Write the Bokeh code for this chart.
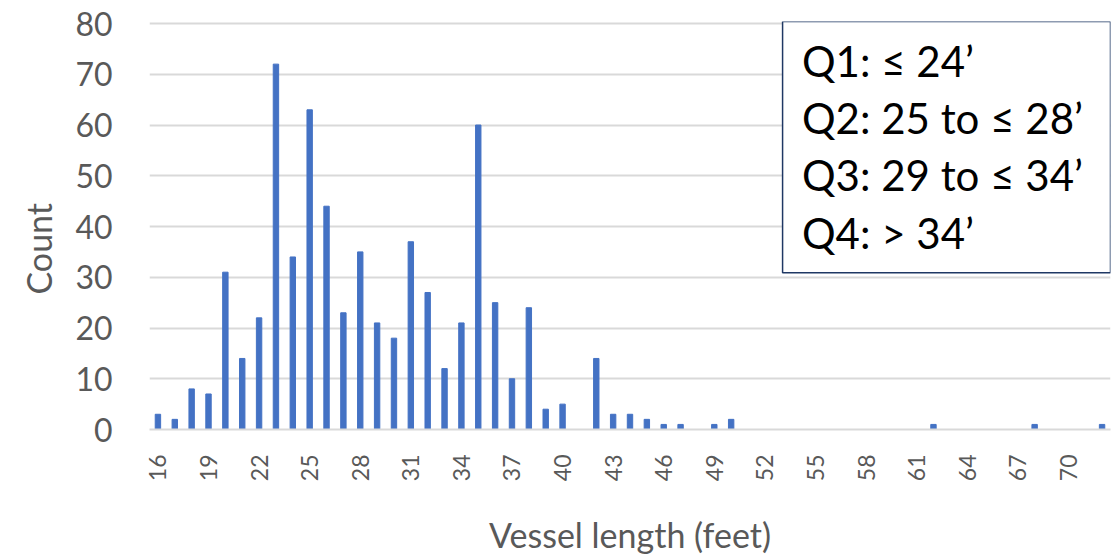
import math
from bokeh.plotting import figure
from bokeh.models import Range1d, FixedTicker, ColumnDataSource, Title
from bokeh.core.properties import value
from bokeh.embed import file_html
from bokeh.resources import INLINE

# ---- data ----
lengths = list(range(16, 73))
counts = [3, 2, 8, 7, 31, 14, 22, 72, 34, 63,    # 16-25
          44, 23, 35, 21, 18, 37, 27, 12, 21, 60,  # 26-35
          25, 10, 24, 4, 5, 0, 14, 3, 3, 2,        # 36-45
          1, 1, 0, 1, 2, 0, 0, 0, 0, 0,            # 46-55
          0, 0, 0, 0, 0, 0, 1, 0, 0, 0,            # 56-65
          0, 0, 1, 0, 0, 0, 1]                     # 66-72
x_ticks = list(range(16, 71, 3))
y_ticks = list(range(0, 81, 10))
x_title = "Vessel length (feet)"
y_title = "Count"
legend_lines = ["Q1: \u2264 24\u2019", "Q2: 25 to \u2264 28\u2019",
                "Q3: 29 to \u2264 34\u2019", "Q4: > 34\u2019"]

FONT = "Lato"
GRAY = "#595959"
GRID = "#D9D9D9"

W, H = 1112, 558
L, R, T, B = 149, 2, 21, 128

p = figure(width=W, height=H, output_backend="svg", toolbar_location=None,
           x_range=Range1d(15.5, 72.5), y_range=Range1d(0, 80.4),
           min_border_left=L, min_border_right=R, min_border_top=T,
           min_border_bottom=B)
p.outline_line_color = None
p.background_fill_color = "white"
p.border_fill_color = "white"

src = ColumnDataSource(dict(x=lengths, top=counts))
p.vbar(x="x", top="top", bottom=0, width=0.32, color="#4472C4", source=src)

# axes
p.xaxis.ticker = FixedTicker(ticks=x_ticks)
p.xaxis.major_label_orientation = math.pi / 2
p.xaxis.major_label_text_font = FONT
p.xaxis.major_label_text_font_size = "23px"
p.xaxis.major_label_text_color = GRAY
p.xaxis.major_label_standoff = 19
p.xaxis.major_tick_line_color = None
p.xaxis.minor_tick_line_color = None
p.xaxis.axis_line_color = GRID
p.xaxis.axis_line_width = 2
p.xaxis.axis_label = x_title
p.xaxis.axis_label_text_font = FONT
p.xaxis.axis_label_text_font_size = "34px"
p.xaxis.axis_label_text_font_style = "normal"
p.xaxis.axis_label_text_color = GRAY
p.xaxis.axis_label_standoff = 30

p.yaxis.ticker = FixedTicker(ticks=y_ticks)
p.yaxis.major_label_text_font = FONT
p.yaxis.major_label_text_font_size = "32px"
p.yaxis.major_label_text_color = GRAY
p.yaxis.major_label_standoff = 31
p.yaxis.major_tick_line_color = None
p.yaxis.minor_tick_line_color = None
p.yaxis.axis_line_color = None

p.xgrid.grid_line_color = None
p.ygrid.grid_line_color = GRID
p.ygrid.grid_line_width = 2

# y axis title, placed as a side title so it can sit below the frame centre
p.add_layout(Title(text=y_title, align="left", offset=135, standoff=28,
                   text_font=FONT, text_font_size="34px",
                   text_font_style="normal", text_color=GRAY), "left")

# quartile box
p.quad(left=[53.05], right=[72.5], bottom=[30.9], top=[80.4],
       fill_color="white", line_color="#1F3864", line_width=1.5)

line_y0 = 72.7
line_dy = 11.3
tsrc = ColumnDataSource(dict(x=[54.2] * len(legend_lines),
                             y=[line_y0 - i * line_dy for i in range(len(legend_lines))],
                             t=legend_lines))
p.text(x="x", y="y", text="t", source=tsrc, text_font=value(FONT),
       text_font_size="42px", text_color="black", text_baseline="middle",
       text_align="left")

open("out.html", "w").write(file_html(p, INLINE))
